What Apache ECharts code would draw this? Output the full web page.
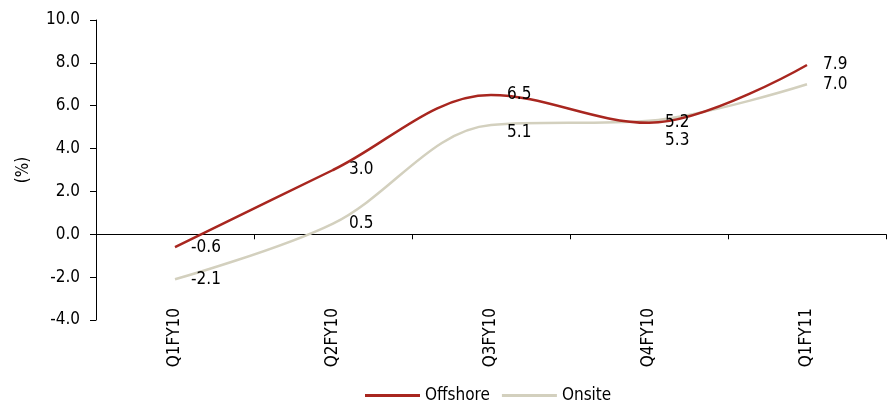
<!DOCTYPE html>
<html>
<head>
<meta charset="utf-8">
<script src="https://cdn.jsdelivr.net/npm/echarts@6/dist/echarts.min.js"></script>
<style>
  html, body { margin: 0; padding: 0; background: #fff; }
  #chart { width: 896px; height: 410px; }
</style>
</head>
<body>
<div id="chart"></div>
<script>
  // quarters on x axis
  var categories = ['Q1FY10', 'Q2FY10', 'Q3FY10', 'Q4FY10', 'Q1FY11'];
  // growth (%)
  var offshore = [-0.6, 3.0, 6.5, 5.2, 7.9];
  var onsite = [-2.1, 0.5, 5.1, 5.3, 7.0];
  var yTicks = [-4.0, 10.0, 2.0]; // min, max, step

  var font = '"Liberation Sans Narrow", "DejaVu Sans Condensed", sans-serif';

  // label tweaks, like the hand-placed labels in the original
  var onsiteOffsets = [[0, 0], [0, 0], [0, 8], [0, 20], [0, 0]];

  var chart = echarts.init(document.getElementById('chart'));

  function labelStyle() {
    return {
      show: true,
      position: 'right',
      distance: 16,
      color: '#000',
      fontFamily: font,
      fontSize: 17,
      formatter: function (p) { return Number(p.value).toFixed(1); }
    };
  }

  var option = {
    animation: false,
    textStyle: { fontFamily: font },
    grid: { left: 96, right: 10, top: 20, bottom: 90, outerBoundsMode: 'none', containLabel: false },
    legend: {
      bottom: 1,
      left: 360,
      itemWidth: 55,
      itemHeight: 3,
      itemGap: 12,
      icon: 'rect',
      textStyle: { fontFamily: font, fontSize: 17, color: '#000' },
      data: ['Offshore', 'Onsite']
    },
    xAxis: {
      type: 'category',
      data: categories,
      boundaryGap: true,
      axisLine: { onZero: true, lineStyle: { color: '#000', width: 1 } },
      axisTick: { show: true, length: 5, lineStyle: { color: '#000' } },
      axisLabel: {
        interval: 0,
        rotate: 90,
        margin: -12,
        color: '#000',
        fontFamily: font,
        fontSize: 17
      },
      splitLine: { show: false }
    },
    yAxis: {
      type: 'value',
      min: yTicks[0],
      max: yTicks[1],
      interval: yTicks[2],
      name: '(%)',
      nameLocation: 'middle',
      nameGap: 64,
      nameTextStyle: { fontFamily: font, fontSize: 17, color: '#000' },
      axisLine: { show: true, lineStyle: { color: '#000' } },
      axisTick: { show: true, length: 6, lineStyle: { color: '#000' } },
      axisLabel: {
        margin: 16,
        color: '#000',
        fontFamily: font,
        fontSize: 17,
        formatter: function (v) { return v.toFixed(1); }
      },
      splitLine: { show: false }
    },
    series: [
      {
        name: 'Offshore',
        type: 'line',
        data: offshore,
        smooth: 0.35,
        symbol: 'circle',
        symbolSize: 0.1,
        showSymbol: true,
        color: '#A8261F',
        itemStyle: { color: '#A8261F' },
        lineStyle: { width: 2.5, color: '#A8261F' },
        label: labelStyle(),
        z: 3
      },
      {
        name: 'Onsite',
        type: 'line',
        data: onsite.map(function (v, i) {
          return { value: v, label: { offset: onsiteOffsets[i] } };
        }),
        smooth: 0.35,
        symbol: 'circle',
        symbolSize: 0.1,
        showSymbol: true,
        color: '#D3D0BE',
        itemStyle: { color: '#D3D0BE' },
        lineStyle: { width: 2.5, color: '#D3D0BE' },
        label: labelStyle(),
        z: 2
      }
    ]
  };

  chart.setOption(option);
</script>
</body>
</html>
